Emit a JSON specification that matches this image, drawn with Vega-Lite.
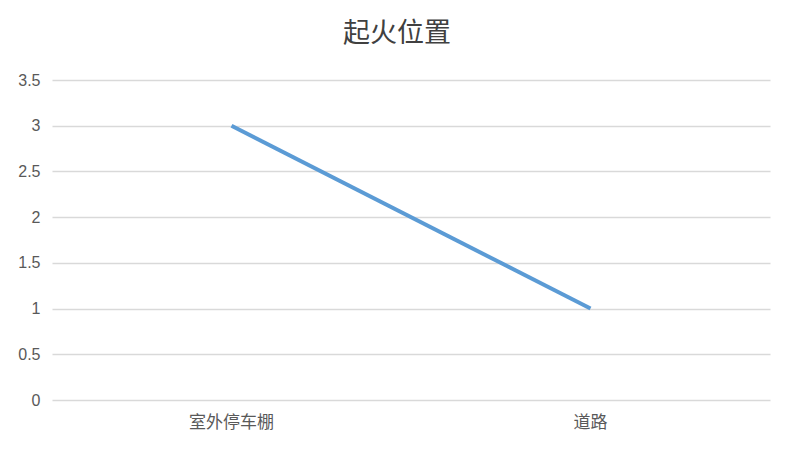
{
  "$schema": "https://vega.github.io/schema/vega-lite/v6.json",
  "autosize": "none",
  "width": 718,
  "height": 320,
  "padding": {"left": 52, "top": 80, "right": 24, "bottom": 52},
  "background": "white",
  "title": {
    "text": "起火位置",
    "font": "Noto Sans CJK SC",
    "fontSize": 27,
    "fontWeight": "normal",
    "color": "#404040",
    "anchor": "middle",
    "dx": -14,
    "offset": 24
  },
  "data": {
    "values": [
      {"位置": "室外停车棚", "数量": 3},
      {"位置": "道路", "数量": 1}
    ]
  },
  "mark": {"type": "line", "color": "#5B9BD5", "strokeWidth": 4},
  "encoding": {
    "x": {
      "field": "位置",
      "type": "ordinal",
      "sort": null,
      "scale": {"type": "band", "paddingInner": 0, "paddingOuter": 0},
      "axis": {"title": null, "labelAngle": 0, "domain": false, "ticks": false, "labelPadding": 14, "labelFontSize": 17, "labelColor": "#595959", "labelFont": "Noto Sans CJK SC"}
    },
    "y": {
      "field": "数量",
      "type": "quantitative",
      "scale": {"domain": [0, 3.5], "nice": false},
      "axis": {"title": null, "values": [0, 0.5, 1, 1.5, 2, 2.5, 3, 3.5], "format": "~g", "domain": false, "ticks": false, "labelPadding": 12, "labelFontSize": 16, "labelColor": "#595959", "labelFont": "Liberation Sans", "gridColor": "#d9d9d9", "gridWidth": 1.5}
    }
  },
  "config": {"view": {"stroke": null}}
}
